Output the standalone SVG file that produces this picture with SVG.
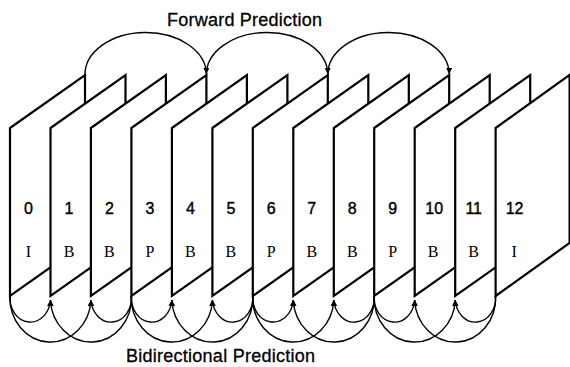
<svg xmlns="http://www.w3.org/2000/svg" width="570" height="367" viewBox="0 0 570 367">
<style>
.frame{fill:#fff;stroke:#000;stroke-width:2.2;stroke-linejoin:miter}
.num{font-family:"Liberation Sans",Arial,sans-serif;font-size:16px;text-anchor:middle;fill:#000;stroke:#000;stroke-width:0.4}
.typ{font-family:"Liberation Serif","Times New Roman",serif;font-size:16px;text-anchor:middle;fill:#000}
.title{font-family:"Liberation Sans",Arial,sans-serif;font-size:18px;text-anchor:middle;fill:#000;stroke:#000;stroke-width:0.3}
.arc{fill:none;stroke:#000;stroke-width:1.4}
</style>
<defs>
<marker id="ah" markerUnits="userSpaceOnUse" markerWidth="7" markerHeight="6" refX="6" refY="3" orient="auto">
<path d="M0,0 L6,3 L0,6 z" fill="#000"/>
</marker>
</defs>
<rect width="570" height="367" fill="#fff"/>
<text class="title" x="244.5" y="26" textLength="155">Forward Prediction</text>
<g id="frame0" transform="translate(10,0)"><polygon class="frame" points="0,128 75,75 75,243 0,296"/><text class="num" x="18.5" y="214">0</text><text class="typ" x="18.5" y="257">I</text></g>
<g id="frame1" transform="translate(50.5,0)"><polygon class="frame" points="0,128 75,75 75,243 0,296"/><text class="num" x="18.5" y="214">1</text><text class="typ" x="18.5" y="257">B</text></g>
<g id="frame2" transform="translate(90.9,0)"><polygon class="frame" points="0,128 75,75 75,243 0,296"/><text class="num" x="18.5" y="214">2</text><text class="typ" x="18.5" y="257">B</text></g>
<g id="frame3" transform="translate(131.4,0)"><polygon class="frame" points="0,128 75,75 75,243 0,296"/><text class="num" x="18.5" y="214">3</text><text class="typ" x="18.5" y="257">P</text></g>
<g id="frame4" transform="translate(171.9,0)"><polygon class="frame" points="0,128 75,75 75,243 0,296"/><text class="num" x="18.5" y="214">4</text><text class="typ" x="18.5" y="257">B</text></g>
<g id="frame5" transform="translate(212.4,0)"><polygon class="frame" points="0,128 75,75 75,243 0,296"/><text class="num" x="18.5" y="214">5</text><text class="typ" x="18.5" y="257">B</text></g>
<g id="frame6" transform="translate(252.8,0)"><polygon class="frame" points="0,128 75,75 75,243 0,296"/><text class="num" x="18.5" y="214">6</text><text class="typ" x="18.5" y="257">P</text></g>
<g id="frame7" transform="translate(293.3,0)"><polygon class="frame" points="0,128 75,75 75,243 0,296"/><text class="num" x="18.5" y="214">7</text><text class="typ" x="18.5" y="257">B</text></g>
<g id="frame8" transform="translate(333.8,0)"><polygon class="frame" points="0,128 75,75 75,243 0,296"/><text class="num" x="18.5" y="214">8</text><text class="typ" x="18.5" y="257">B</text></g>
<g id="frame9" transform="translate(374.2,0)"><polygon class="frame" points="0,128 75,75 75,243 0,296"/><text class="num" x="18.5" y="214">9</text><text class="typ" x="18.5" y="257">P</text></g>
<g id="frame10" transform="translate(414.7,0)"><polygon class="frame" points="0,128 75,75 75,243 0,296"/><text class="num" x="19.5" y="214">10</text><text class="typ" x="18.5" y="257">B</text></g>
<g id="frame11" transform="translate(455.2,0)"><polygon class="frame" points="0,128 75,75 75,243 0,296"/><text class="num" x="18.5" y="214">11</text><text class="typ" x="18.5" y="257">B</text></g>
<g id="frame12" transform="translate(495.6,0)"><polygon class="frame" points="0,128 74,75 74,243 0,296"/><text class="num" x="19" y="214">12</text><text class="typ" x="18.5" y="257">I</text></g>
<g id="connectors">
<path class="arc" marker-end="url(#ah)" d="M85 75 A60.7 42 0 0 1 206.4 74"/>
<path class="arc" marker-end="url(#ah)" d="M206.4 75 A60.7 42 0 0 1 327.8 74"/>
<path class="arc" marker-end="url(#ah)" d="M327.8 75 A60.7 42 0 0 1 449.2 74"/>
<path class="arc" marker-end="url(#ah)" d="M10 296 A20.25 24 0 0 0 50.5 300"/>
<path class="arc" marker-end="url(#ah)" d="M10 296 A40.45 44 0 0 0 90.9 300"/>
<path class="arc" marker-end="url(#ah)" d="M131.4 296 A20.25 24 0 0 1 90.9 300"/>
<path class="arc" marker-end="url(#ah)" d="M131.4 296 A40.45 44 0 0 1 50.5 300"/>
<path class="arc" marker-end="url(#ah)" d="M131.4 296 A20.25 24 0 0 0 171.9 300"/>
<path class="arc" marker-end="url(#ah)" d="M131.4 296 A40.5 44 0 0 0 212.4 300"/>
<path class="arc" marker-end="url(#ah)" d="M252.8 296 A20.2 24 0 0 1 212.4 300"/>
<path class="arc" marker-end="url(#ah)" d="M252.8 296 A40.45 44 0 0 1 171.9 300"/>
<path class="arc" marker-end="url(#ah)" d="M252.8 296 A20.25 24 0 0 0 293.3 300"/>
<path class="arc" marker-end="url(#ah)" d="M252.8 296 A40.5 44 0 0 0 333.8 300"/>
<path class="arc" marker-end="url(#ah)" d="M374.2 296 A20.2 24 0 0 1 333.8 300"/>
<path class="arc" marker-end="url(#ah)" d="M374.2 296 A40.45 44 0 0 1 293.3 300"/>
<path class="arc" marker-end="url(#ah)" d="M374.2 296 A20.25 24 0 0 0 414.7 300"/>
<path class="arc" marker-end="url(#ah)" d="M374.2 296 A40.5 44 0 0 0 455.2 300"/>
<path class="arc" marker-end="url(#ah)" d="M495.6 296 A20.2 24 0 0 1 455.2 300"/>
<path class="arc" marker-end="url(#ah)" d="M495.6 296 A40.45 44 0 0 1 414.7 300"/>
</g>
<text class="title" x="220.5" y="362" textLength="189">Bidirectional Prediction</text>
</svg>
